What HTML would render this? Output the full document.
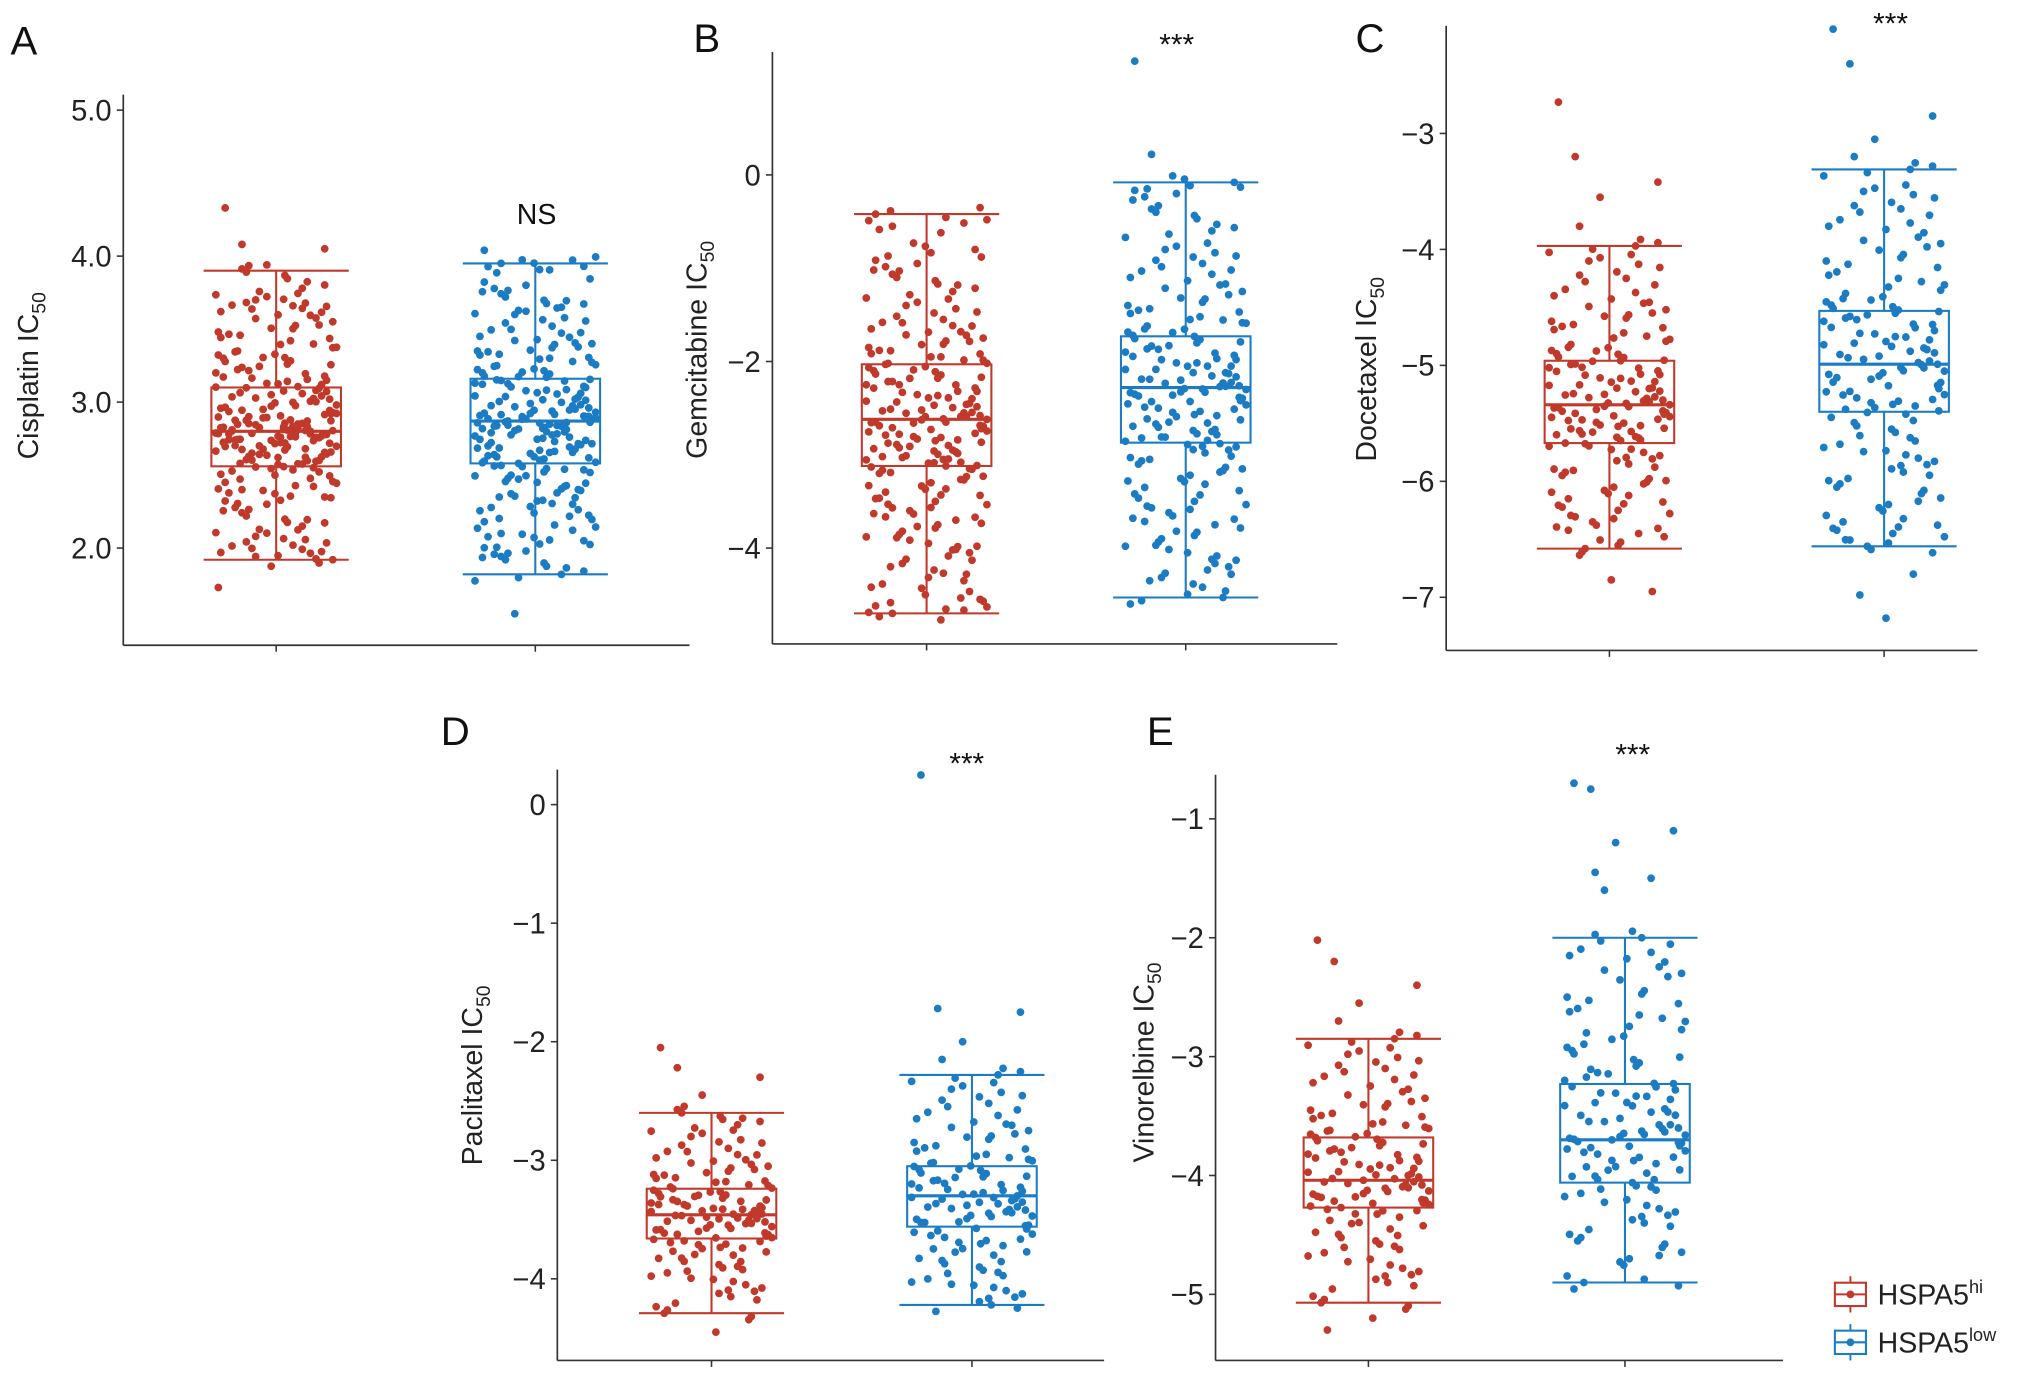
<!DOCTYPE html>
<html><head><meta charset="utf-8"><style>
html,body{margin:0;padding:0;background:#fff;}
svg{display:block;font-family:"Liberation Sans",Arial,sans-serif;}
</style></head><body>
<svg id="fig" width="2032" height="1376" viewBox="0 0 1568 1062" xmlns="http://www.w3.org/2000/svg"></svg>
<script>
const RED="#c0392b", BLUE="#1b7cc4";
const jitter=[-0.82,0.35,0.91,-0.27,0.64,-0.55,0.12,-0.93,0.47,-0.08,0.78,-0.71,0.23,-0.39,0.86,-0.15,0.55,-0.62,0.03,0.97,-0.48,0.31,-0.85,0.69,-0.21,0.42,-0.76,0.18,-0.58,0.88,-0.33,0.07,-0.97,0.6,-0.44,0.27,-0.66,0.81,-0.02,0.5,-0.89,0.14,0.73];
const yJit=[0,5,-5,2.5,-2.5];
const aHi=[4.33,4.08,4.05,3.94,3.89,3.78,3.7,3.66,3.62,3.55,3.48,3.42,3.35,3.3,3.26,3.2,3.15,3.12,3.08,3.05,3.02,2.98,2.95,2.92,2.9,2.87,2.85,2.83,2.81,2.8,2.79,2.78,2.76,2.74,2.72,2.7,2.68,2.65,2.62,2.6,2.58,2.55,2.5,2.45,2.4,2.35,2.3,2.22,2.15,2.08,2.02,1.97,1.92,1.73];
const aLow=[4.04,3.95,3.93,3.8,3.72,3.65,3.6,3.52,3.45,3.4,3.35,3.3,3.25,3.2,3.17,3.13,3.1,3.06,3.02,2.99,2.96,2.93,2.9,2.88,2.87,2.86,2.84,2.82,2.79,2.76,2.73,2.7,2.67,2.64,2.61,2.58,2.54,2.5,2.45,2.4,2.35,2.3,2.24,2.18,2.1,2.05,1.98,1.92,1.82,1.55];
const bHi=[-0.42,-0.55,-0.8,-0.95,-1.1,-1.25,-1.4,-1.55,-1.65,-1.75,-1.85,-1.95,-2.02,-2.1,-2.18,-2.25,-2.32,-2.4,-2.46,-2.52,-2.58,-2.62,-2.66,-2.72,-2.78,-2.84,-2.9,-2.96,-3.02,-3.08,-3.12,-3.2,-3.3,-3.4,-3.5,-3.6,-3.7,-3.82,-3.95,-4.05,-4.2,-4.35,-4.5,-4.62,-4.7];
const bLow=[1.22,0.22,-0.08,-0.2,-0.4,-0.6,-0.8,-0.95,-1.1,-1.25,-1.4,-1.52,-1.62,-1.72,-1.8,-1.9,-1.98,-2.05,-2.12,-2.2,-2.26,-2.3,-2.36,-2.42,-2.5,-2.58,-2.66,-2.74,-2.82,-2.88,-2.98,-3.1,-3.22,-3.35,-3.5,-3.62,-3.75,-3.9,-4.05,-4.2,-4.35,-4.53];
const cHi=[-2.73,-3.2,-3.42,-3.55,-3.8,-3.97,-4.1,-4.25,-4.4,-4.52,-4.62,-4.72,-4.82,-4.9,-4.96,-5.02,-5.08,-5.14,-5.2,-5.25,-5.3,-5.34,-5.38,-5.42,-5.47,-5.52,-5.57,-5.62,-5.67,-5.75,-5.85,-5.95,-6.05,-6.15,-6.25,-6.35,-6.45,-6.58,-6.85,-6.95];
const cLow=[-2.1,-2.4,-2.85,-3.05,-3.2,-3.31,-3.5,-3.65,-3.8,-3.95,-4.1,-4.25,-4.38,-4.48,-4.55,-4.62,-4.7,-4.78,-4.85,-4.92,-4.99,-5.05,-5.12,-5.2,-5.28,-5.35,-5.42,-5.55,-5.68,-5.8,-5.92,-6.05,-6.2,-6.35,-6.45,-6.56,-6.8,-6.98,-7.18];
const dHi=[-2.05,-2.22,-2.3,-2.45,-2.6,-2.7,-2.8,-2.9,-2.98,-3.05,-3.12,-3.18,-3.24,-3.28,-3.32,-3.36,-3.4,-3.44,-3.46,-3.48,-3.52,-3.56,-3.6,-3.64,-3.68,-3.74,-3.8,-3.88,-3.95,-4.05,-4.15,-4.29,-4.45];
const dLow=[0.25,-1.72,-1.75,-2.0,-2.15,-2.28,-2.4,-2.52,-2.65,-2.75,-2.85,-2.95,-3.02,-3.08,-3.14,-3.2,-3.26,-3.3,-3.34,-3.38,-3.42,-3.47,-3.52,-3.58,-3.65,-3.72,-3.8,-3.9,-4.0,-4.1,-4.22];
const eHi=[-2.02,-2.2,-2.4,-2.55,-2.7,-2.85,-2.98,-3.1,-3.22,-3.35,-3.45,-3.55,-3.62,-3.68,-3.75,-3.82,-3.88,-3.94,-4.0,-4.04,-4.08,-4.13,-4.18,-4.23,-4.27,-4.35,-4.45,-4.55,-4.65,-4.78,-4.9,-5.07,-5.2,-5.3];
const eLow=[-0.7,-0.75,-1.1,-1.2,-1.45,-1.5,-1.6,-2.0,-2.15,-2.3,-2.5,-2.65,-2.8,-2.95,-3.08,-3.2,-3.28,-3.36,-3.44,-3.52,-3.6,-3.66,-3.7,-3.75,-3.82,-3.9,-3.98,-4.06,-4.15,-4.28,-4.4,-4.55,-4.7,-4.9];
const aHiBox=[1.92,2.56,2.8,3.1,3.9], aLowBox=[1.82,2.58,2.87,3.16,3.95];
const bHiBox=[-4.7,-3.12,-2.62,-2.03,-0.42], bLowBox=[-4.53,-2.87,-2.28,-1.73,-0.08];
const cHiBox=[-6.58,-5.67,-5.34,-4.96,-3.97], cLowBox=[-6.56,-5.4,-4.99,-4.53,-3.31];
const dHiBox=[-4.29,-3.66,-3.46,-3.24,-2.6], dLowBox=[-4.22,-3.56,-3.3,-3.05,-2.28];
const eHiBox=[-5.07,-4.27,-4.04,-3.68,-2.85], eLowBox=[-4.9,-4.06,-3.7,-3.23,-2.0];
const aTicks=[2,3,4,5], aTickLabels=["2.0","3.0","4.0","5.0"];
const bTicks=[-4,-2,0], bTickLabels=["\u22124","\u22122","0"];
const cTicks=[-7,-6,-5,-4,-3], cTickLabels=["\u22127","\u22126","\u22125","\u22124","\u22123"];
const dTicks=[-4,-3,-2,-1,0], dTickLabels=["\u22124","\u22123","\u22122","\u22121","0"];
const eTicks=[-5,-4,-3,-2,-1], eTickLabels=["\u22125","\u22124","\u22123","\u22122","\u22121"];

const svg=document.getElementById('fig');
const NS="http://www.w3.org/2000/svg";
function mk(tag,attrs,parent){const e=document.createElementNS(NS,tag);for(const k in attrs)e.setAttribute(k,attrs[k]);(parent||svg).appendChild(e);return e;}

function panel(p){
  const g=mk('g',{});
  
  
  const y=v=>p.y0+(v-p.v0)*(p.y1-p.y0)/(p.v1-p.v0);
  const ax=mk('line',{x1:p.ax,y1:p.top,x2:p.ax,y2:p.bot,stroke:'#333','stroke-width':1.3},g);
  
  const xa=mk('line',{x1:p.ax,y1:p.bot,x2:p.right,y2:p.bot,stroke:'#333','stroke-width':1.3},g);
  
  p.ticks.forEach((t,i)=>{
    mk('line',{x1:p.ax-5,y1:y(t),x2:p.ax,y2:y(t),stroke:'#333','stroke-width':1.2},g);
    const tl=mk('text',{x:p.ax-9,y:y(t)+8,'text-anchor':'end','font-size':22.5,fill:'#222'},g);
    tl.textContent=p.labels[i];
    
  });
  [p.g1,p.g2].forEach(gx=>mk('line',{x1:gx,y1:p.bot,x2:gx,y2:p.bot+5,stroke:'#333','stroke-width':1.2},g));
  const tt=mk('text',{x:0,y:0,transform:`translate(${p.tx},${p.ty}) rotate(-90)`,'text-anchor':'middle','font-size':22,fill:'#222'},g);
  tt.innerHTML=p.name+' IC<tspan font-size="15" dy="6">50</tspan>';
  
  const lt=mk('text',{x:p.lx,y:p.ly,'font-size':31,fill:'#111'},g);
  lt.textContent=p.id;
  
  const sig=mk('text',{x:p.sx,y:p.sy,'text-anchor':'middle','font-size':p.sig==='NS'?22:23,fill:'#111'},g);
  sig.textContent=p.sig;
  
  [[p.g1,p.hiBox,p.hi,RED,'hi'],[p.g2,p.lowBox,p.low,BLUE,'low']].forEach(([gx,b,vals,col,nm])=>{
    const hw=50, cap=28;
    const bg=mk('g',{},g);
    
    mk('line',{x1:gx,y1:y(b[0]),x2:gx,y2:y(b[1]),stroke:col,'stroke-width':1.6},bg);
    mk('line',{x1:gx,y1:y(b[3]),x2:gx,y2:y(b[4]),stroke:col,'stroke-width':1.6},bg);
    mk('line',{x1:gx-cap*2,y1:y(b[0]),x2:gx+cap*2,y2:y(b[0]),stroke:col,'stroke-width':1.6},bg);
    mk('line',{x1:gx-cap*2,y1:y(b[4]),x2:gx+cap*2,y2:y(b[4]),stroke:col,'stroke-width':1.6},bg);
    mk('rect',{x:gx-hw,y:y(b[3]),width:hw*2,height:y(b[1])-y(b[3]),fill:'none',stroke:col,'stroke-width':1.6},bg);
    mk('line',{x1:gx-hw,y1:y(b[2]),x2:gx+hw,y2:y(b[2]),stroke:col,'stroke-width':2.4},bg);
    vals.forEach((v,i)=>{
      const reps=(v>b[4]||v<b[0])?1:5;
      for(let k=0;k<reps;k++){
        const j=jitter[(i*5+k*7)%jitter.length];
        const c=mk('circle',{cx:gx+j*48,cy:y(v)+yJit[k],r:3,fill:col},bg);
        
        
      }
    });
  });
}
panel({id:'A',name:'Cisplatin',ax:95,top:73,bot:498,right:532,v0:5,y0:85,v1:2,y1:423,ticks:aTicks,labels:aTickLabels,g1:213,g2:413,hi:aHi,low:aLow,hiBox:aHiBox,lowBox:aLowBox,tx:29,ty:290,lx:8,ly:42,sig:'NS',sx:414,sy:173});
panel({id:'B',name:'Gemcitabine',ax:596,top:40,bot:497,right:1032,v0:0,y0:135,v1:-4,y1:423,ticks:bTicks,labels:bTickLabels,g1:715,g2:915,hi:bHi,low:bLow,hiBox:bHiBox,lowBox:bLowBox,tx:545,ty:270,lx:535,ly:40,sig:'***',sx:908,sy:42});
panel({id:'C',name:'Docetaxel',ax:1116,top:20,bot:502,right:1526,v0:-3,y0:103,v1:-7,y1:461,ticks:cTicks,labels:cTickLabels,g1:1242,g2:1454,hi:cHi,low:cLow,hiBox:cHiBox,lowBox:cLowBox,tx:1062,ty:285,lx:1046,ly:40,sig:'***',sx:1459,sy:26});
panel({id:'D',name:'Paclitaxel',ax:430,top:594,bot:1050,right:852,v0:0,y0:621,v1:-4,y1:987,ticks:dTicks,labels:dTickLabels,g1:549,g2:750,hi:dHi,low:dLow,hiBox:dHiBox,lowBox:dLowBox,tx:372,ty:830,lx:340,ly:575,sig:'***',sx:746,sy:597});
panel({id:'E',name:'Vinorelbine',ax:938,top:598,bot:1050,right:1376,v0:-1,y0:632,v1:-5,y1:999,ticks:eTicks,labels:eTickLabels,g1:1056,g2:1254,hi:eHi,low:eLow,hiBox:eHiBox,lowBox:eLowBox,tx:890,ty:820,lx:885,ly:575,sig:'***',sx:1260,sy:590});
const lg=mk('g',{});

[[RED,999,'hi'],[BLUE,1036,'low']].forEach(([col,cy,sup])=>{
  const e=mk('g',{},lg);
  
  mk('line',{x1:1428,y1:cy-14,x2:1428,y2:cy+14,stroke:col,'stroke-width':1.5},e);
  mk('rect',{x:1416,y:cy-9,width:24,height:18,fill:'#fff',stroke:col,'stroke-width':1.6},e);
  mk('line',{x1:1416,y1:cy,x2:1440,y2:cy,stroke:col,'stroke-width':1.6},e);
  mk('circle',{cx:1428,cy:cy,r:3,fill:col},e);
  const t=mk('text',{x:1449,y:cy+8,'font-size':22,fill:'#222'},e);
  t.innerHTML='HSPA5<tspan font-size="14" dy="-9">'+sup+'</tspan>';
});
</script>
</body></html>
